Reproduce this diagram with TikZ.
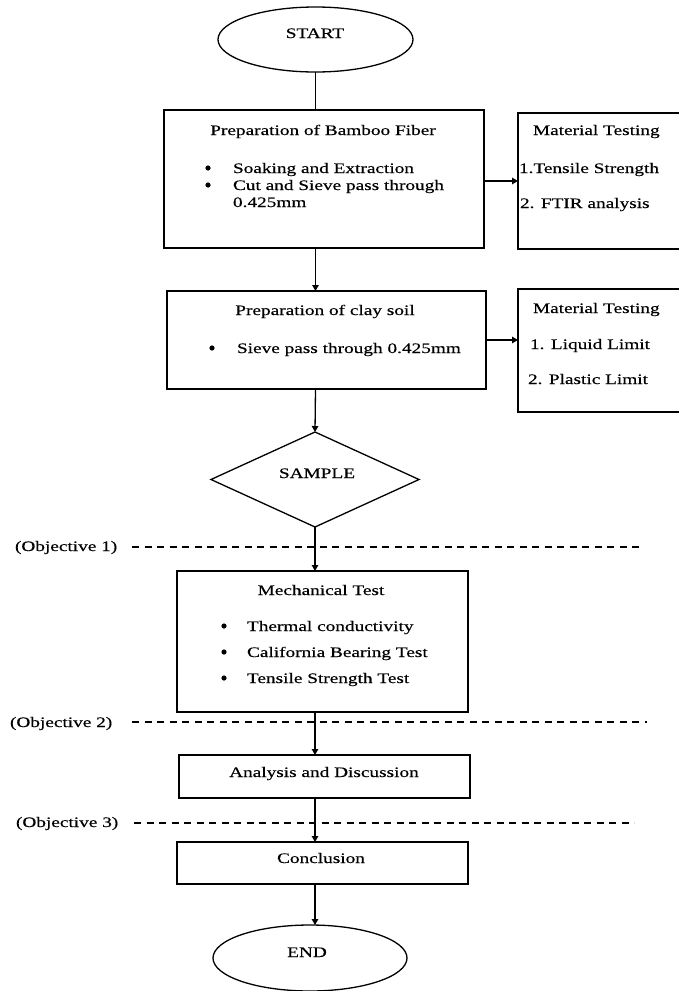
\documentclass[tikz,border=0pt]{standalone}
\usepackage{fontspec}
\setmainfont{Liberation Serif}[FakeStretch=1.33,FakeBold=0.35]
\usetikzlibrary{shapes.geometric,arrows.meta}
\begin{document}
\begin{tikzpicture}[x=1pt,y=-1pt,
  every node/.style={inner sep=0pt,outer sep=0pt},
  txt/.style={font=\fontsize{14.5pt}{17pt}\selectfont},
  dot/.style={circle,fill,minimum size=5.2pt},
  bx/.style={draw,line width=1.4pt,rectangle},
  ell/.style={draw,line width=1.3pt,ellipse},
  arr/.style={line width=1.3pt,-{Triangle[length=6pt,width=6.5pt]}},
  ln/.style={line width=1.3pt},
  dsh/.style={line width=1.2pt,dash pattern=on 7pt off 5.5pt}]
\useasboundingbox (0,0) rectangle (679,991);
\clip (0,0) rectangle (679,991);
\fill[white] (0,0) rectangle (679,991);

% shapes
\node[ell,minimum width=195pt,minimum height=65pt] (start) at (315.5,39.5) {};
\node[bx,minimum width=320pt,minimum height=138pt] (b1) at (324,179) {};
\node[bx,minimum width=182pt,minimum height=136pt] (r1) at (609,181) {};
\node[bx,minimum width=319pt,minimum height=98pt] (b2) at (326.5,340) {};
\node[bx,minimum width=182pt,minimum height=123pt] (r2) at (609,350.5) {};
\node[draw,line width=1.3pt,diamond,minimum width=208pt,minimum height=95pt] (dia) at (315,479.5) {};
\node[bx,minimum width=291pt,minimum height=141pt] (b3) at (322.5,641.5) {};
\node[bx,minimum width=291pt,minimum height=43pt] (b4) at (324.5,776.5) {};
\node[bx,minimum width=291pt,minimum height=42pt] (b5) at (322.5,863) {};
\node[ell,minimum width=194pt,minimum height=66pt] (end) at (310,958) {};

% texts
\node[txt,anchor=base] (tstart) at (315,38) {START};
\node[txt,anchor=base] (t1) at (323,135) {Preparation of Bamboo Fiber};
\node[dot] (t1b1) at (208,168) {};
\node[dot] (t1b2) at (208,185) {};
\node[txt,anchor=base west] (t1i1) at (233,173) {Soaking and Extraction};
\node[txt,anchor=base west] (t1i2) at (233,190) {Cut and Sieve pass through};
\node[txt,anchor=base west] (t1i3) at (233,207) {0.425mm};

\node[txt,anchor=base west] (r1t) at (533,135) {Material Testing};
\node[txt,anchor=base west] (r1i1) at (519,173) {1.Tensile Strength};
\node[txt,anchor=base west] (r1i2) at (520,208) {2. FTIR analysis};

\node[txt,anchor=base] (t2) at (325,315) {Preparation of clay soil};
\node[dot] (t2b1) at (212,348) {};
\node[txt,anchor=base west] (t2i1) at (237,353) {Sieve pass through 0.425mm};

\node[txt,anchor=base west] (r2t) at (533,313) {Material Testing};
\node[txt,anchor=base west] (r2i1) at (530,349) {1. Liquid Limit};
\node[txt,anchor=base west] (r2i2) at (528,384) {2. Plastic Limit};

\node[txt,anchor=base] (tsample) at (317,478) {SAMPLE};

\node[txt,anchor=base] (t3) at (321,595) {Mechanical Test};
\node[dot] (t3b1) at (224,626) {};
\node[dot] (t3b2) at (224,652) {};
\node[dot] (t3b3) at (224,678) {};
\node[txt,anchor=base west] (t3i1) at (247,631) {Thermal conductivity};
\node[txt,anchor=base west] (t3i2) at (247,657) {California Bearing Test};
\node[txt,anchor=base west] (t3i3) at (247,683) {Tensile Strength Test};

\node[txt,anchor=base] (t4) at (324,777) {Analysis and Discussion};
\node[txt,anchor=base] (t5) at (321,863) {Conclusion};
\node[txt,anchor=base] (tend) at (307,957) {END};

% objectives
\node[txt,anchor=base west] (ob1) at (15,551) {(Objective 1)};
\node[txt,anchor=base west] (ob2) at (10,727) {(Objective 2)};
\node[txt,anchor=base west] (ob3) at (16,827) {(Objective 3)};
\coordinate (o1a) at (132,547); \coordinate (o1b) at (641,547);
\coordinate (o2a) at (132,722); \coordinate (o2b) at (647,722);
\coordinate (o3a) at (134,823); \coordinate (o3b) at (634,823);
\draw[dsh] (o1a) -- (o1b);
\draw[dsh] (o2a) -- (o2b);
\draw[dsh] (o3a) -- (o3b);

% connectors
\draw[ln] (start.south) -- (start.south |- b1.north);
\draw[arr] (start.south |- b1.south) -- (start.south |- b2.north);
\draw[arr] (start.south |- b2.south) -- (dia.north);
\draw[arr] (dia.south) -- (dia.south |- b3.north);
\draw[arr] (dia.south |- b3.south) -- (dia.south |- b4.north);
\draw[arr] (dia.south |- b4.south) -- (dia.south |- b5.north);
\draw[arr] (dia.south |- b5.south) -- (dia.south |- end.north);
\draw[arr] (b1.east |- r1.west) -- (r1.west);
\draw[arr] (b2.east) -- (b2.east -| r2.west);
\end{tikzpicture}
\end{document}
